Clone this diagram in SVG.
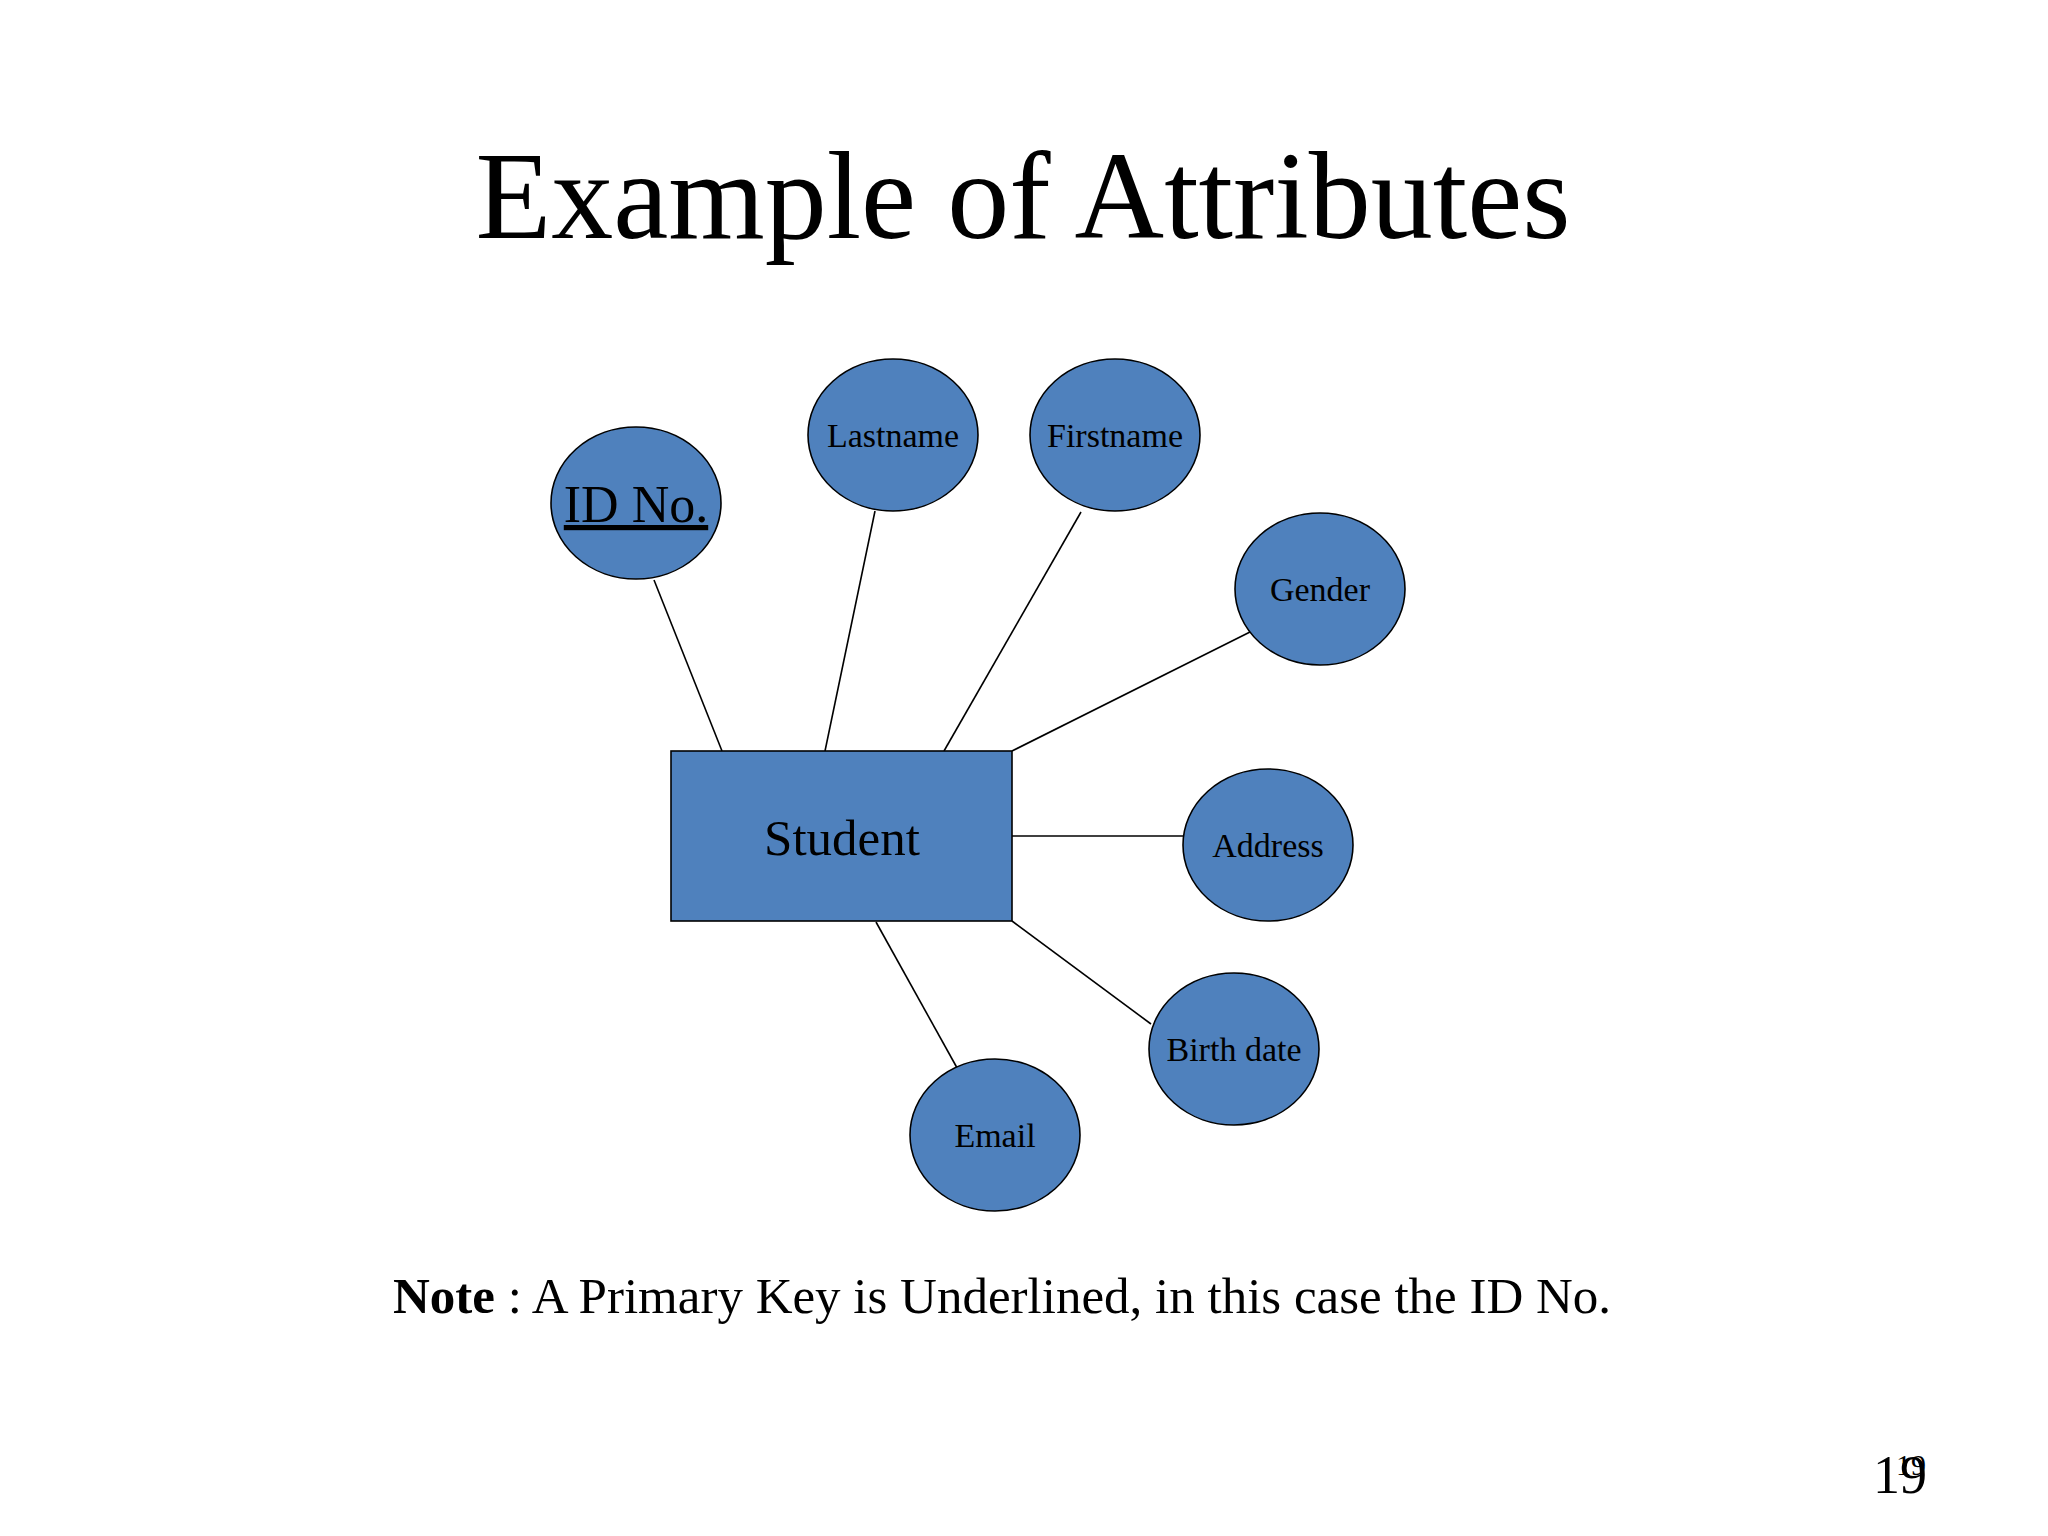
<svg xmlns="http://www.w3.org/2000/svg" width="2048" height="1536" viewBox="0 0 2048 1536">
<style>
text{font-family:"Liberation Serif","Times New Roman",serif;fill:#000}
.e{fill:#4f81bd;stroke:#000;stroke-width:1.6}
.l{font-size:34px;text-anchor:middle}
#connectors line{stroke:#000;stroke-width:1.6}
</style>
<rect width="2048" height="1536" fill="#fff"/>
<text x="1023" y="238" font-size="124" text-anchor="middle">Example of Attributes</text>
<g id="connectors">
<line x1="654" y1="580" x2="722" y2="751"/>
<line x1="875" y1="511" x2="825" y2="751"/>
<line x1="1081" y1="512" x2="944" y2="751"/>
<line x1="1250" y1="632" x2="1012" y2="751"/>
<line x1="1012" y1="836" x2="1183" y2="836"/>
<line x1="1012" y1="921" x2="1151" y2="1024"/>
<line x1="876" y1="922" x2="961" y2="1075"/>
</g>
<g id="student"><rect x="671" y="751" width="341" height="170" class="e"/><text x="842" y="855" font-size="51" text-anchor="middle">Student</text></g>
<g id="idno"><ellipse cx="636" cy="503" rx="85" ry="76" class="e"/><text x="636" y="522" font-size="52" text-anchor="middle" text-decoration="underline">ID No.</text></g>
<g id="lastname"><ellipse cx="893" cy="435" rx="85" ry="76" class="e"/><text x="893" y="447" class="l">Lastname</text></g>
<g id="firstname"><ellipse cx="1115" cy="435" rx="85" ry="76" class="e"/><text x="1115" y="447" class="l">Firstname</text></g>
<g id="gender"><ellipse cx="1320" cy="589" rx="85" ry="76" class="e"/><text x="1320" y="601" class="l">Gender</text></g>
<g id="address"><ellipse cx="1268" cy="845" rx="85" ry="76" class="e"/><text x="1268" y="857" class="l">Address</text></g>
<g id="birthdate"><ellipse cx="1234" cy="1049" rx="85" ry="76" class="e"/><text x="1234" y="1061" class="l">Birth date</text></g>
<g id="email"><ellipse cx="995" cy="1135" rx="85" ry="76" class="e"/><text x="995" y="1147" class="l">Email</text></g>
<text x="393" y="1313" font-size="51"><tspan font-weight="bold">Note</tspan> : A Primary Key is Underlined, in this case the ID No.</text>
<text x="1873" y="1493" font-size="54">19</text>
<text x="1896" y="1475" font-size="30">19</text>
</svg>
